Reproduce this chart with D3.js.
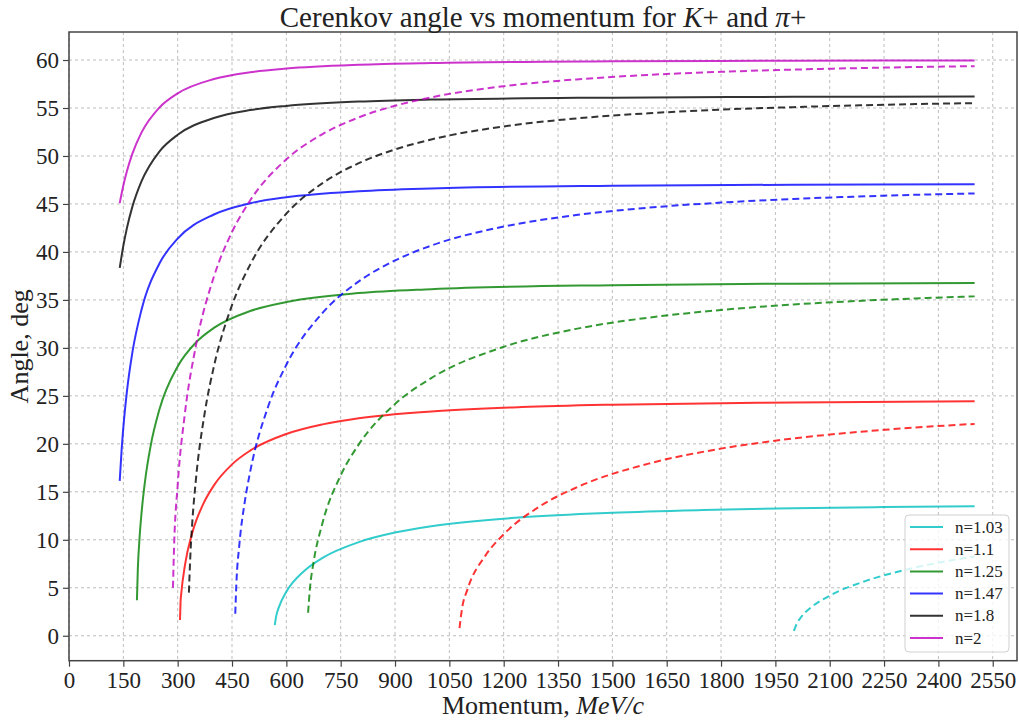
<!DOCTYPE html>
<html>
<head>
<meta charset="utf-8">
<script src="https://cdn.jsdelivr.net/npm/d3@7"></script>
<style>
  body { margin: 0; background: #fff; }
  text { font-family: "Liberation Serif", "DejaVu Serif", serif; fill: #222; }
</style>
</head>
<body>
<script>
// refractive indices, one colour each
var labels = ["n=1.03", "n=1.1", "n=1.25", "n=1.47", "n=1.8", "n=2"];
var colors = ["#00bfbf", "#ff0000", "#008000", "#0000ff", "#000000", "#bf00bf"];

var xTicks = [0, 150, 300, 450, 600, 750, 900, 1050, 1200, 1350, 1500, 1650, 1800, 1950, 2100, 2250, 2400, 2550];
var yTicks = [0, 5, 10, 15, 20, 25, 30, 35, 40, 45, 50, 55, 60];

// pi+ (solid lines), [momentum MeV/c, angle deg]
var pion_103 = [[568,1.1],[572,2.05],[580,3.04],[600,4.58],[650,6.78],[700,8.12],[800,9.76],[900,10.75],[1000,11.41],[1250,12.34],[1500,12.82],[1750,13.10],[2000,13.29],[2250,13.41],[2500,13.50]];
var pion_110 = [[306.4,1.64],[308,3.56],[310,4.45],[320,7.34],[340,10.69],[370,13.69],[400,15.67],[450,17.86],[500,19.29],[600,21.03],[700,22.03],[800,22.67],[1000,23.38],[1250,23.83],[1500,24.08],[2000,24.32],[2500,24.43]];
var pion_125 = [[187.5,3.7],[190,6.94],[195,10.33],[200,12.70],[210,16.14],[225,19.71],[250,23.63],[300,28.07],[350,30.55],[400,32.08],[500,33.84],[600,34.78],[800,35.71],[1000,36.12],[1500,36.54],[2000,36.69],[2500,36.76]];
var pion_147 = [[140,16.14],[145,19.23],[150,21.69],[160,25.49],[175,29.53],[200,33.95],[250,38.82],[300,41.39],[400,43.90],[500,45.07],[600,45.70],[800,46.33],[1000,46.62],[1500,46.90],[2000,47.00],[2500,47.05]];
var pion_180 = [[140,38.33],[150,40.64],[160,42.51],[175,44.72],[200,47.35],[250,50.49],[300,52.21],[400,53.96],[500,54.78],[600,55.22],[800,55.67],[1000,55.88],[1500,56.08],[2000,56.16],[2500,56.19]];
var pion_200 = [[140,45.09],[150,46.92],[160,48.43],[175,50.24],[200,52.43],[250,55.07],[300,56.53],[400,58.02],[500,58.73],[600,59.11],[800,59.50],[1000,59.68],[1500,59.86],[2000,59.92],[2500,59.95]];

// K+ (dashed lines)
var kaon_103 = [[2001,0.5],[2010,1.33],[2020,1.90],[2050,3.0],[2100,4.18],[2200,5.72],[2300,6.79],[2400,7.61],[2500,8.26]];
var kaon_110 = [[1078,0.8],[1085,2.84],[1100,4.83],[1150,8.38],[1200,10.57],[1300,13.49],[1400,15.44],[1600,17.94],[1800,19.50],[2000,20.56],[2250,21.46],[2500,22.08]];
var kaon_125 = [[660,2.4],[665,4.89],[675,7.63],[700,11.78],[750,16.71],[800,19.94],[900,24.15],[1000,26.85],[1200,30.11],[1400,31.98],[1600,33.15],[1800,33.95],[2000,34.52],[2250,35.02],[2500,35.37]];
var kaon_147 = [[459,2.3],[462,5.39],[470,9.40],[485,13.9],[500,17.06],[550,23.92],[600,28.24],[700,33.65],[800,36.93],[900,39.11],[1000,40.66],[1200,42.64],[1400,43.84],[1600,44.61],[1800,45.14],[2000,45.52],[2250,45.86],[2500,46.10]];
var kaon_180 = [[331,4.5],[335,8.34],[340,11.64],[350,16.14],[375,23.30],[400,28.06],[450,34.45],[500,38.67],[600,43.99],[700,47.17],[800,49.25],[900,50.68],[1000,51.72],[1200,53.08],[1400,53.91],[1600,54.45],[1800,54.83],[2000,55.09],[2250,55.34],[2500,55.51]];
var kaon_200 = [[287,5.0],[290,9.19],[300,15.68],[320,23.18],[350,30.17],[400,37.42],[450,42.08],[500,45.36],[600,49.65],[700,52.28],[800,54.02],[900,55.23],[1000,56.11],[1200,57.27],[1400,57.98],[1600,58.45],[1800,58.77],[2000,59.00],[2250,59.21],[2500,59.36]];

var pions = [pion_103, pion_110, pion_125, pion_147, pion_180, pion_200];
var kaons = [kaon_103, kaon_110, kaon_125, kaon_147, kaon_180, kaon_200];

var window_w = 1019, window_h = 722;
var m = {left: 69, right: 1017, top: 32, bottom: 660.7};

var xScale = d3.scaleLinear().domain([0, 2617]).range([m.left, m.right]);
var yScale = d3.scaleLinear().domain([-2.6, 62.92]).range([m.bottom, m.top]);

var svg = d3.select("body").append("svg").attr("width", window_w).attr("height", window_h);

// grid
svg.append("g").selectAll("line").data(xTicks).enter().append("line")
    .attr("x1", function(d){return xScale(d);}).attr("x2", function(d){return xScale(d);})
    .attr("y1", m.top).attr("y2", m.bottom)
    .attr("stroke", "#bdbdbd").attr("stroke-width", 1).attr("stroke-dasharray", "3,3");
svg.append("g").selectAll("line").data(yTicks).enter().append("line")
    .attr("y1", function(d){return yScale(d);}).attr("y2", function(d){return yScale(d);})
    .attr("x1", m.left).attr("x2", m.right)
    .attr("stroke", "#bdbdbd").attr("stroke-width", 1).attr("stroke-dasharray", "3,3");

var line = d3.line()
    .x(function(d){return xScale(d[0]);})
    .y(function(d){return yScale(d[1]);})
    .curve(d3.curveMonotoneX);

// plotted order: for each n, pion then kaon
for (var i = 0; i < labels.length; i++) {
    svg.append("path").attr("d", line(pions[i]))
        .attr("fill", "none").attr("stroke", colors[i]).attr("stroke-opacity", 0.8)
        .attr("stroke-width", 2);
    svg.append("path").attr("d", line(kaons[i]))
        .attr("fill", "none").attr("stroke", colors[i]).attr("stroke-opacity", 0.8)
        .attr("stroke-width", 2).attr("stroke-dasharray", "7,4");
}

// axes
var xAxis = d3.axisBottom(xScale).tickValues(xTicks).tickFormat(d3.format("d"))
    .tickSize(6).tickSizeOuter(0).tickPadding(5);
var yAxis = d3.axisLeft(yScale).tickValues(yTicks).tickFormat(d3.format("d"))
    .tickSize(6).tickSizeOuter(0).tickPadding(4);

var xAxisG = svg.append("g").attr("transform", "translate(0," + m.bottom + ")").call(xAxis);
var yAxisG = svg.append("g").attr("transform", "translate(" + m.left + ",0)").call(yAxis);
[xAxisG, yAxisG].forEach(function(g) {
    g.select(".domain").remove();
    g.selectAll("line").attr("stroke", "#444").attr("stroke-width", 1.2);
    g.selectAll("text").style("font-size", "23px").attr("fill", "#333");
});
yAxisG.selectAll("text").attr("dy", "0.34em");

// frame
svg.append("rect").attr("x", m.left).attr("y", m.top)
    .attr("width", m.right - m.left).attr("height", m.bottom - m.top)
    .attr("fill", "none").attr("stroke", "#444").attr("stroke-width", 1.5);

// title and labels
var title = svg.append("text").attr("x", (m.left + m.right) / 2).attr("y", 27)
    .attr("text-anchor", "middle").style("font-size", "29px");
title.append("tspan").text("Cerenkov angle vs momentum for ");
title.append("tspan").attr("font-style", "italic").text("K");
title.append("tspan").text("+ and ");
title.append("tspan").attr("font-style", "italic").text("\u03c0");
title.append("tspan").text("+");

var xl = svg.append("text").attr("x", (m.left + m.right) / 2).attr("y", 714)
    .attr("text-anchor", "middle").style("font-size", "26px");
xl.append("tspan").text("Momentum, ");
xl.append("tspan").attr("font-style", "italic").text("MeV/c");

svg.append("text").attr("transform", "translate(28," + ((m.top + m.bottom) / 2) + ") rotate(-90)")
    .attr("text-anchor", "middle").style("font-size", "26px").text("Angle, deg");

// legend
var lg = svg.append("g").attr("transform", "translate(905,515)");
lg.append("rect").attr("width", 104).attr("height", 137).attr("rx", 4)
    .attr("fill", "#fff").attr("fill-opacity", 0.8).attr("stroke", "#d0d0d0");
labels.forEach(function(lab, i) {
    var yy = 12 + i * 22.2;
    lg.append("line").attr("x1", 5).attr("x2", 38).attr("y1", yy).attr("y2", yy)
        .attr("stroke", colors[i]).attr("stroke-opacity", 0.8).attr("stroke-width", 2);
    lg.append("text").attr("x", 50).attr("y", yy).attr("dy", "0.33em")
        .style("font-size", "17px").text(lab);
});
</script>
</body>
</html>
